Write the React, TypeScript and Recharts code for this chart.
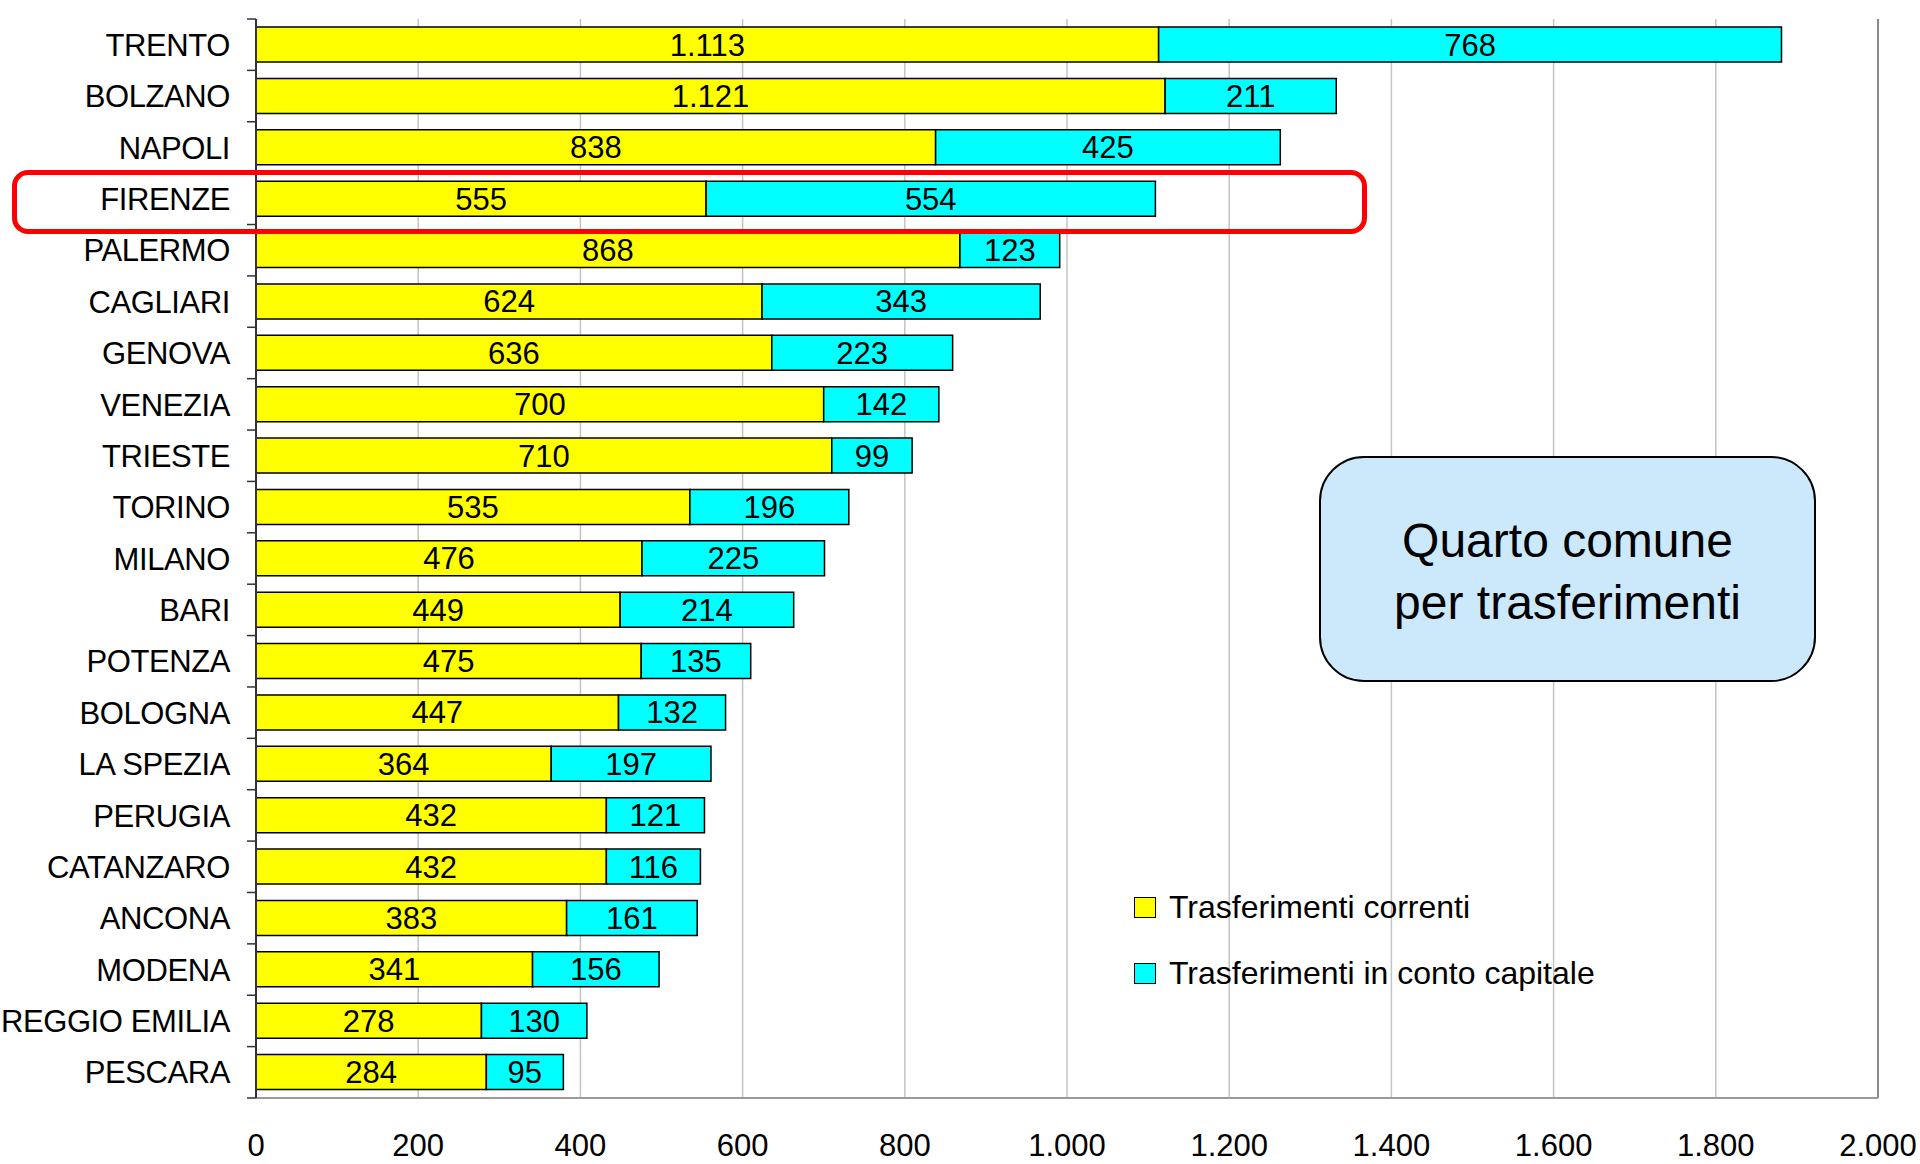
import React from 'react'
import {
  Bar,
  BarChart,
  CartesianGrid,
  LabelList,
  Legend,
  ReferenceLine,
  XAxis,
  YAxis,
} from 'recharts'

const cities = [
  'TRENTO',
  'BOLZANO',
  'NAPOLI',
  'FIRENZE',
  'PALERMO',
  'CAGLIARI',
  'GENOVA',
  'VENEZIA',
  'TRIESTE',
  'TORINO',
  'MILANO',
  'BARI',
  'POTENZA',
  'BOLOGNA',
  'LA SPEZIA',
  'PERUGIA',
  'CATANZARO',
  'ANCONA',
  'MODENA',
  'REGGIO EMILIA',
  'PESCARA',
]
const correnti = [1113, 1121, 838, 555, 868, 624, 636, 700, 710, 535, 476, 449, 475, 447, 364, 432, 432, 383, 341, 278, 284]
const capitale = [768, 211, 425, 554, 123, 343, 223, 142, 99, 196, 225, 214, 135, 132, 197, 121, 116, 161, 156, 130, 95]
const xTicks = [0, 200, 400, 600, 800, 1000, 1200, 1400, 1600, 1800, 2000]

const SERIES_CORRENTI = 'Trasferimenti correnti'
const SERIES_CAPITALE = 'Trasferimenti in conto capitale'

const FONT = '"Liberation Sans", Arial, sans-serif'
const PLOT_TOP = 19
const PLOT_BOTTOM = 1098
const BAND = (PLOT_BOTTOM - PLOT_TOP) / cities.length

const rows = cities.map((city, i) => ({
  city,
  correnti: correnti[i],
  capitale: capitale[i],
}))

// 1113 -> "1.113"
const fmt = (v: unknown) => String(v).replace(/\B(?=(\d{3})+(?!\d))/g, '.')

function CityTick(props: any) {
  const { x, y, payload, index } = props
  return (
    <g>
      <line x1={x + 17} x2={x + 26} y1={y - BAND / 2} y2={y - BAND / 2} stroke="#333" strokeWidth={1.5} />
      {index === cities.length - 1 && (
        <line x1={x + 17} x2={x + 26} y1={y + BAND / 2} y2={y + BAND / 2} stroke="#333" strokeWidth={1.5} />
      )}
      <text x={x} y={y} dy="0.36em" textAnchor="end" fontSize={31} letterSpacing={-0.4} fill="#000">
        {payload.value}
      </text>
    </g>
  )
}

function LegendContent(props: any) {
  const items = props.payload ?? []
  return (
    <div style={{ fontFamily: FONT }}>
      {items.map((item: any) => (
        <div key={item.value} style={{ display: 'flex', alignItems: 'center', height: 66 }}>
          <span
            style={{
              display: 'inline-block',
              width: 22,
              height: 21,
              background: item.color,
              border: '1.5px solid #000',
              boxSizing: 'border-box',
              marginRight: 13,
            }}
          />
          <span style={{ fontSize: 32, color: '#000', whiteSpace: 'nowrap' }}>{item.value}</span>
        </div>
      ))}
    </div>
  )
}

export default function App() {
  return (
    <div style={{ position: 'absolute', left: 0, top: 0, width: 1920, height: 1164, fontFamily: FONT, background: '#fff' }}>
      <BarChart
        data={rows}
        height={1164}
        layout="vertical"
        margin={{ top: PLOT_TOP, right: 42, bottom: 0, left: 0 }}
        width={1920}
        barSize={35}
      >
        <CartesianGrid horizontal={false} stroke="#c4c4c4" strokeWidth={1.5} />
        <ReferenceLine x={2000} stroke="#8a8a8a" strokeWidth={2} />
        <XAxis
          axisLine={{ stroke: '#9a9a9a', strokeWidth: 2 }}
          domain={[0, 2000]}
          height={66}
          tick={{ fill: '#000', fontSize: 31 }}
          tickFormatter={fmt}
          tickLine={false}
          tickMargin={30}
          ticks={xTicks}
          type="number"
        />
        <XAxis
          allowDataOverflow
          axisLine={{ stroke: '#333', strokeWidth: 2 }}
          domain={[0, 2000]}
          height={0}
          orientation="top"
          tick={false}
          tickLine={{ stroke: '#333', strokeWidth: 1.5 }}
          tickSize={10}
          ticks={xTicks}
          type="number"
          xAxisId="top"
        />
        <YAxis
          axisLine={{ stroke: '#333', strokeWidth: 2 }}
          dataKey="city"
          tick={<CityTick />}
          tickLine={false}
          tickMargin={17}
          tickSize={9}
          type="category"
          width={256}
          interval={0}
        />
        <Legend
          align="center"
          content={<LegendContent />}
          layout="vertical"
          verticalAlign="middle"
          wrapperStyle={{ left: 1134, top: 874, width: 600, height: 132 }}
        />
        <Bar
          dataKey="correnti"
          fill="#ffff00"
          isAnimationActive={false}
          name={SERIES_CORRENTI}
          stackId="t"
          stroke="#000"
          strokeWidth={1.5}
        >
          <LabelList dataKey="correnti" fill="#000" fontSize={31} formatter={fmt} position="center" />
        </Bar>
        <Bar
          dataKey="capitale"
          fill="#00ffff"
          isAnimationActive={false}
          name={SERIES_CAPITALE}
          stackId="t"
          stroke="#000"
          strokeWidth={1.5}
        >
          <LabelList dataKey="capitale" fill="#000" fontSize={31} formatter={fmt} position="center" />
        </Bar>
      </BarChart>

      {/* highlight around Firenze */}
      <div
        style={{
          position: 'absolute',
          left: 12,
          top: 170,
          width: 1355,
          height: 64,
          border: '5px solid #ff0000',
          borderRadius: 16,
          boxSizing: 'border-box',
          pointerEvents: 'none',
        }}
      />

      <div
        style={{
          position: 'absolute',
          left: 1319,
          top: 456,
          width: 497,
          height: 226,
          border: '2px solid #000',
          borderRadius: 45,
          background: '#cce9fb',
          boxSizing: 'border-box',
          display: 'flex',
          alignItems: 'center',
          justifyContent: 'center',
          textAlign: 'center',
          fontSize: 48,
          lineHeight: '62px',
          color: '#000',
          paddingTop: 6,
        }}
      >
        <div>
          Quarto comune
          <br />
          per trasferimenti
        </div>
      </div>
    </div>
  )
}
